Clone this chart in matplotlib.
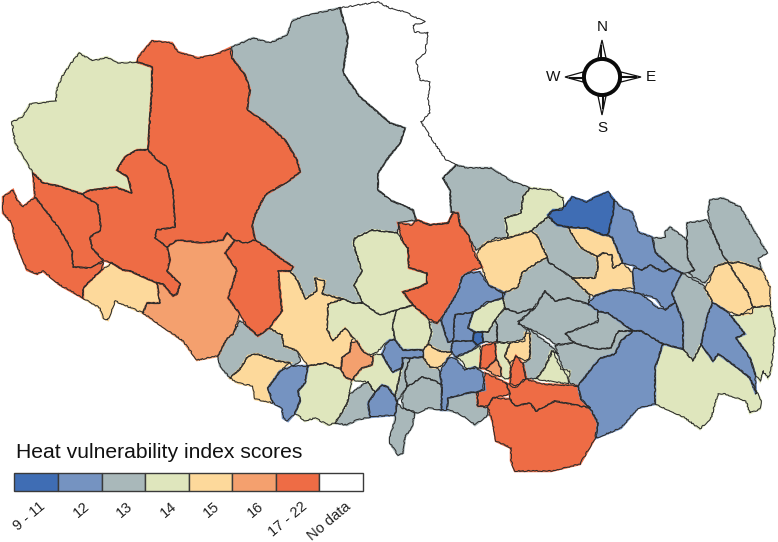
import matplotlib
matplotlib.use("Agg")
import matplotlib.pyplot as plt
from matplotlib.patches import Polygon, Circle, Rectangle

plt.rcParams['font.family'] = ['Liberation Sans', 'DejaVu Sans']

legend_labels = ["9 - 11", "12", "13", "14", "15", "16", "17 - 22", "No data"]
legend_colors = ["#3f6db4", "#7593c1", "#a9b8ba", "#dfe6bd", "#fdd99b", "#f4a06e", "#ee6c45", "#ffffff"]
legend_edges = [14, 58, 102, 145, 189, 232, 276, 319, 363]
legend_title = "Heat vulnerability index scores"

# outlines, pixel coords, one list per score class
no_data = [
    [(340, 8), (358, 5), (378, 2), (390, 8), (405, 12), (425, 22), (413, 25), (415, 32), (428, 33), (425, 53),
     (416, 60), (420, 80), (430, 82), (428, 97), (430, 113), (421, 122), (431, 138), (446, 160), (456, 165),
     (443, 178), (450, 190), (451, 212), (453, 213), (448, 223), (430, 225), (417, 220), (416, 220), (413, 210),
     (390, 200), (378, 190), (378, 173), (388, 158), (400, 143), (405, 128), (390, 123), (360, 97), (343, 73),
     (348, 37)],
]

class_13 = [
    [(232, 47), (253, 38), (270, 43), (287, 35), (293, 20), (317, 13), (340, 8), (348, 37), (343, 73), (360, 97),
     (390, 123), (405, 128), (400, 143), (388, 158), (378, 173), (378, 190), (390, 200), (413, 210), (416, 220),
     (398, 223), (398, 233), (372, 230), (355, 238), (353, 243), (357, 255), (362, 272), (354, 285), (363, 303),
     (353, 303), (343, 299), (322, 294), (325, 281), (315, 278), (317, 291), (305, 299), (298, 281), (290, 271),
     (293, 267), (283, 260), (267, 248), (255, 240), (252, 225), (255, 215), (265, 195), (290, 180), (300, 172),
     (297, 160), (285, 140), (265, 122), (247, 110), (250, 90), (245, 75), (232, 58)],
    [(443, 178), (456, 165), (468, 168), (491, 168), (513, 182), (530, 188), (523, 197), (521, 213), (505, 218),
     (508, 238), (495, 238), (476, 250), (468, 235), (460, 225), (458, 213), (451, 212), (450, 190)],
    [(531, 231), (548, 217), (557, 225), (568, 227), (580, 247), (597, 257), (598, 268), (595, 278), (572, 278),
     (558, 268), (548, 262), (547, 257), (537, 235)],
    [(503, 293), (518, 287), (522, 273), (538, 262), (547, 257), (548, 262), (558, 268), (572, 278), (590, 295),
     (588, 304), (568, 298), (555, 301), (545, 291), (535, 308), (518, 313), (505, 309), (503, 298)],
    [(505, 308), (518, 313), (535, 308), (518, 322), (527, 330), (523, 340), (505, 342), (497, 342), (497, 325),
     (495, 320)],
    [(488, 332), (495, 320), (497, 325), (497, 342), (483, 342), (482, 332)],
    [(518, 324), (535, 306), (545, 291), (555, 301), (568, 298), (588, 304), (598, 311), (598, 323), (591, 324),
     (565, 333), (573, 343), (565, 344), (555, 344), (545, 336), (528, 328)],
    [(565, 334), (591, 324), (598, 321), (598, 311), (608, 313), (633, 331), (618, 331), (611, 348), (595, 349),
     (575, 343)],
    [(555, 346), (565, 344), (575, 343), (595, 349), (611, 348), (618, 331), (633, 331), (621, 341), (615, 354),
     (601, 358), (595, 364), (578, 386), (570, 383), (560, 361), (558, 354)],
    [(528, 328), (538, 336), (551, 346), (558, 354), (553, 351), (545, 368), (536, 379), (526, 378), (523, 364),
     (530, 358), (530, 334)],
    [(429, 322), (437, 323), (441, 320), (448, 342), (453, 341), (451, 350), (452, 352), (443, 352), (437, 350),
     (428, 344), (432, 333)],
    [(448, 398), (468, 393), (478, 392), (477, 405), (488, 408), (488, 415), (475, 425), (467, 418), (455, 412),
     (447, 410)],
    [(423, 357), (430, 367), (438, 368), (440, 372), (442, 385), (433, 380), (422, 377), (407, 387), (405, 373),
     (410, 358)],
    [(407, 387), (422, 377), (433, 380), (442, 385), (442, 410), (428, 408), (417, 413), (403, 408), (402, 400),
     (403, 393)],
    [(402, 358), (410, 358), (405, 373), (407, 387), (403, 393), (397, 402), (395, 397), (398, 383), (403, 363)],
    [(397, 403), (402, 408), (415, 412), (412, 427), (405, 437), (403, 453), (398, 455), (390, 443), (390, 437),
     (395, 420), (395, 415)],
    [(335, 423), (347, 404), (349, 395), (365, 383), (368, 382), (375, 393), (368, 403), (370, 417), (357, 420),
     (347, 425)],
    [(240, 321), (247, 326), (258, 336), (269, 328), (282, 335), (284, 346), (298, 351), (300, 361), (293, 366),
     (290, 363), (277, 361), (257, 354), (248, 356), (240, 369), (230, 378), (220, 366), (218, 356), (227, 338),
     (233, 334)],
    [(653, 238), (665, 238), (665, 232), (670, 227), (687, 240), (688, 260), (695, 270), (683, 273), (672, 268),
     (655, 252)],
    [(687, 223), (707, 220), (712, 230), (723, 255), (728, 262), (715, 267), (705, 283), (695, 278), (688, 273),
     (695, 270), (688, 260), (687, 240)],
    [(710, 200), (723, 198), (740, 207), (748, 220), (767, 253), (758, 258), (762, 270), (740, 262), (732, 263),
     (728, 262), (723, 255), (712, 230), (708, 212)],
    [(682, 273), (703, 285), (713, 303), (708, 314), (701, 344), (693, 361), (683, 349), (683, 321), (675, 302),
     (672, 293)],
]

class_14 = [
    [(79, 53), (72, 62), (63, 75), (57, 88), (56, 101), (30, 104), (22, 117), (12, 122), (15, 143), (22, 155),
     (33, 173), (43, 183), (58, 186), (82, 194), (87, 191), (115, 187), (132, 193), (128, 177), (117, 170),
     (125, 157), (137, 150), (148, 150), (152, 87), (152, 67), (137, 62), (118, 63), (107, 57), (93, 61)],
    [(355, 238), (372, 230), (398, 233), (403, 242), (408, 248), (409, 268), (427, 273), (427, 283), (420, 287),
     (403, 292), (413, 305), (397, 310), (380, 315), (363, 303), (354, 285), (362, 272), (357, 255), (353, 243)],
    [(328, 304), (343, 299), (353, 303), (363, 303), (380, 315), (397, 310), (392, 325), (395, 340), (387, 342),
     (377, 352), (368, 355), (362, 350), (357, 341), (353, 338), (345, 328), (333, 341), (327, 329)],
    [(397, 310), (413, 305), (428, 318), (429, 322), (432, 333), (428, 344), (423, 350), (403, 350), (395, 340),
     (392, 325)],
    [(373, 355), (382, 354), (387, 363), (393, 372), (402, 368), (403, 363), (398, 383), (395, 397), (388, 387),
     (382, 385), (375, 393), (368, 382), (352, 380), (362, 368), (372, 365)],
    [(308, 366), (325, 363), (341, 369), (345, 377), (352, 380), (349, 395), (347, 404), (335, 423), (328, 425),
     (315, 418), (305, 421), (295, 413), (300, 401), (298, 391), (305, 383)],
    [(505, 218), (521, 213), (523, 197), (530, 188), (551, 190), (563, 198), (563, 207), (551, 212), (548, 217),
     (531, 231), (508, 238)],
    [(473, 312), (490, 302), (503, 298), (505, 308), (495, 320), (488, 332), (475, 332), (468, 328)],
    [(456, 358), (472, 350), (480, 346), (481, 353), (480, 368), (466, 369), (463, 361)],
    [(496, 343), (510, 343), (505, 356), (510, 364), (511, 378), (505, 379), (501, 376), (501, 368), (496, 359)],
    [(551, 351), (553, 351), (561, 369), (570, 371), (568, 384), (536, 379), (545, 368)],
    [(663, 344), (683, 349), (693, 361), (701, 344), (713, 361), (718, 354), (738, 368), (750, 378), (761, 401),
     (760, 409), (750, 413), (746, 401), (725, 394), (718, 394), (711, 418), (700, 429), (685, 418), (671, 411),
     (655, 404), (655, 368)],
    [(731, 316), (740, 315), (753, 307), (770, 306), (775, 328), (771, 371), (768, 378), (763, 371), (760, 381),
     (755, 374), (750, 358), (736, 338), (745, 334)],
]

class_15 = [
    [(102, 270), (112, 263), (123, 270), (130, 271), (157, 283), (160, 303), (147, 303), (143, 313), (115, 301),
     (108, 320), (103, 318), (100, 308), (83, 298), (83, 288), (97, 274)],
    [(278, 271), (290, 271), (298, 281), (305, 299), (317, 291), (315, 278), (325, 281), (322, 294), (343, 299),
     (328, 304), (327, 329), (333, 341), (345, 328), (353, 338), (351, 343), (350, 352), (342, 358), (341, 369),
     (325, 363), (308, 366), (298, 351), (284, 346), (282, 335), (269, 328), (282, 311)],
    [(230, 378), (240, 369), (248, 356), (257, 354), (277, 361), (290, 363), (280, 371), (268, 388), (273, 403),
     (255, 399), (253, 386), (238, 383)],
    [(480, 248), (487, 242), (500, 240), (508, 238), (531, 231), (537, 235), (547, 257), (538, 262), (522, 273),
     (518, 287), (503, 293), (488, 285), (482, 267), (477, 255)],
    [(568, 227), (587, 228), (603, 235), (612, 237), (623, 263), (613, 268), (612, 255), (603, 253), (597, 257),
     (580, 247)],
    [(597, 257), (603, 253), (612, 255), (613, 268), (623, 263), (633, 273), (634, 288), (612, 290), (595, 296),
     (590, 295), (572, 278), (595, 278), (598, 268)],
    [(423, 350), (428, 344), (437, 350), (443, 352), (452, 352), (446, 362), (438, 368), (430, 367), (423, 357)],
    [(510, 343), (525, 341), (525, 333), (530, 334), (530, 358), (525, 361), (516, 356), (510, 364), (505, 356)],
    [(715, 267), (728, 262), (737, 277), (748, 293), (753, 307), (752, 313), (740, 315), (725, 310), (713, 303),
     (705, 288), (710, 280)],
    [(728, 262), (732, 263), (740, 262), (762, 270), (770, 287), (770, 306), (753, 307), (748, 293), (737, 277)],
]

class_16 = [
    [(167, 247), (177, 240), (203, 243), (223, 240), (227, 233), (235, 240), (225, 253), (237, 270), (228, 298),
     (240, 314), (233, 334), (227, 338), (218, 356), (197, 360), (183, 341), (143, 313), (147, 303), (160, 303),
     (157, 283), (163, 284), (173, 296), (177, 294), (180, 284), (167, 271), (170, 260)],
    [(357, 341), (362, 350), (368, 355), (373, 357), (372, 365), (362, 368), (352, 380), (345, 377), (341, 369),
     (342, 358), (350, 352), (351, 343)],
    [(496, 359), (501, 368), (501, 376), (496, 376), (486, 369)],
]

class_17_22 = [
    [(137, 62), (139, 56), (152, 41), (172, 43), (178, 52), (198, 58), (215, 55), (230, 48), (232, 58), (245, 75),
     (250, 90), (247, 110), (265, 122), (285, 140), (297, 160), (300, 172), (290, 180), (265, 195), (255, 215),
     (252, 225), (255, 240), (245, 243), (235, 240), (227, 233), (223, 240), (203, 243), (177, 240), (167, 247),
     (155, 238), (157, 230), (175, 227), (173, 190), (167, 167), (157, 160), (148, 150), (152, 87), (152, 67)],
    [(137, 150), (148, 150), (157, 160), (167, 167), (173, 190), (175, 227), (157, 230), (155, 238), (167, 247),
     (170, 260), (167, 271), (180, 284), (177, 294), (173, 296), (163, 284), (157, 283), (130, 271), (123, 270),
     (112, 263), (103, 260), (92, 248), (90, 237), (101, 230), (98, 205), (83, 195), (87, 191), (115, 187),
     (132, 193), (128, 177), (117, 170), (125, 157)],
    [(33, 173), (43, 183), (58, 186), (82, 194), (98, 205), (101, 230), (90, 237), (92, 248), (103, 260), (90, 268),
     (73, 267), (72, 250), (58, 227), (43, 207), (35, 197)],
    [(3, 197), (13, 190), (17, 200), (23, 207), (35, 197), (43, 207), (58, 227), (72, 250), (73, 267), (90, 268),
     (103, 262), (102, 270), (97, 274), (83, 288), (83, 298), (60, 285), (43, 271), (37, 274), (27, 270), (15, 240),
     (12, 223), (3, 213)],
    [(235, 240), (245, 243), (255, 240), (267, 248), (283, 260), (293, 267), (290, 271), (278, 271), (282, 311),
     (269, 328), (258, 336), (247, 326), (240, 314), (228, 298), (237, 270), (225, 253)],
    [(398, 223), (412, 225), (417, 220), (430, 225), (448, 223), (453, 213), (458, 213), (460, 225), (468, 235),
     (475, 255), (482, 267), (468, 272), (462, 277), (458, 292), (448, 308), (437, 323), (428, 318), (413, 305),
     (403, 292), (420, 287), (427, 283), (427, 273), (409, 268), (408, 248), (403, 242)],
    [(483, 346), (495, 343), (496, 359), (486, 369), (480, 368), (481, 353)],
    [(516, 356), (523, 364), (526, 378), (516, 386), (510, 383), (511, 368)],
    [(485, 373), (496, 378), (506, 383), (510, 394), (493, 398), (488, 406), (478, 406), (477, 394), (483, 389)],
    [(506, 383), (515, 388), (526, 379), (541, 384), (578, 386), (581, 399), (590, 408), (580, 406), (555, 401),
     (536, 411), (530, 403), (515, 406), (510, 399), (510, 394)],
    [(493, 398), (510, 399), (515, 406), (530, 403), (536, 411), (555, 401), (580, 406), (590, 408), (598, 423),
     (595, 438), (580, 464), (551, 471), (515, 471), (511, 461), (511, 448), (496, 441), (493, 423), (490, 414),
     (488, 406)],
]

class_12 = [
    [(462, 277), (468, 273), (480, 272), (488, 285), (505, 293), (503, 298), (487, 302), (473, 312), (455, 315),
     (453, 341), (448, 342), (441, 320), (448, 308), (458, 292)],
    [(455, 315), (473, 312), (468, 328), (475, 332), (474, 333), (473, 341), (453, 341)],
    [(453, 341), (473, 341), (478, 345), (472, 350), (455, 357), (451, 350)],
    [(448, 358), (455, 358), (465, 370), (475, 367), (483, 373), (485, 390), (468, 393), (448, 398), (447, 410),
     (441, 410), (442, 390), (440, 372)],
    [(390, 340), (395, 340), (403, 350), (423, 350), (423, 357), (410, 358), (402, 358), (403, 363), (402, 368),
     (393, 372), (387, 363), (382, 354), (387, 342)],
    [(382, 385), (388, 387), (395, 397), (397, 403), (395, 415), (370, 417), (368, 403), (375, 393)],
    [(268, 388), (280, 371), (293, 366), (308, 366), (305, 383), (298, 391), (300, 401), (295, 413), (288, 421),
     (283, 418), (282, 408), (273, 403)],
    [(614, 200), (622, 208), (632, 212), (638, 232), (652, 237), (655, 252), (672, 268), (663, 272), (650, 265),
     (642, 270), (632, 265), (623, 263), (612, 237), (608, 235), (613, 213)],
    [(634, 268), (642, 270), (650, 265), (663, 272), (672, 268), (682, 273), (672, 293), (675, 302), (665, 310),
     (655, 298), (635, 292), (634, 288), (633, 273)],
    [(588, 304), (595, 296), (612, 290), (628, 291), (641, 294), (658, 308), (665, 310), (675, 302), (683, 321),
     (683, 349), (663, 344), (641, 331), (633, 331), (608, 313), (598, 311)],
    [(578, 386), (595, 364), (601, 358), (615, 354), (621, 341), (633, 331), (641, 331), (663, 344), (655, 368),
     (655, 404), (638, 408), (621, 428), (596, 438), (598, 423), (590, 408), (581, 399)],
    [(713, 303), (725, 310), (731, 316), (745, 334), (736, 338), (750, 358), (755, 374), (756, 394), (750, 378),
     (738, 368), (718, 354), (713, 361), (701, 344), (708, 314)],
]

class_9_11 = [
    [(548, 215), (553, 210), (562, 210), (572, 197), (587, 202), (595, 197), (608, 192), (614, 200), (613, 213),
     (608, 235), (603, 235), (587, 228), (568, 227), (557, 225)],
    [(474, 333), (482, 332), (483, 342), (477, 345), (473, 341)],
]

compass_text = [("N", 602, 27), ("S", 602, 128), ("W", 553, 77), ("E", 651, 77)]

fig = plt.figure(figsize=(7.78, 5.42), dpi=100)
ax = fig.add_axes([0, 0, 1, 1])
ax.set_xlim(0, 778)
ax.set_ylim(542, 0)
ax.axis('off')

map_classes = [(no_data, 7), (class_13, 2), (class_14, 3), (class_15, 4), (class_16, 5),
               (class_17_22, 6), (class_12, 1), (class_9_11, 0)]

# first pass closes the hairline gaps the wobbly outlines leave
for outlines, color_idx in map_classes:
    for outline in outlines:
        ax.add_patch(Polygon(outline, closed=True, facecolor=legend_colors[color_idx],
                             edgecolor=legend_colors[color_idx], linewidth=1.8))

for outlines, color_idx in map_classes:
    for outline in outlines:
        p = Polygon(outline, closed=True, facecolor='none',
                    edgecolor="#2b2b2b", linewidth=0.75, joinstyle='round')
        p.set_sketch_params(scale=0.6, length=8, randomness=16)
        ax.add_patch(p)

# legend strip
for i, label in enumerate(legend_labels):
    left, right = legend_edges[i], legend_edges[i + 1]
    ax.add_patch(Rectangle((left, 473), right - left, 18, facecolor=legend_colors[i],
                           edgecolor="#3a3a3a", linewidth=1.0))
    ax.text((left + right) / 2 + 3, 499, label, rotation=40, ha='right', va='top',
            rotation_mode='anchor', fontsize=10.5, color="#222222")
ax.text(16, 458, legend_title, fontsize=15.2, color="#111111", ha='left', va='baseline')

# compass
cx, cy = 602, 77
ax.add_patch(Polygon([(cx, 40), (cx - 4, 58), (cx + 4, 58)], facecolor='white', edgecolor='#111111', lw=0.9))
ax.add_patch(Polygon([(cx - 4, 96), (cx + 4, 96), (cx, 115)], facecolor='white', edgecolor='#111111', lw=0.9))
ax.add_patch(Polygon([(565, cy), (583, cy - 5), (583, cy + 5)], facecolor='white', edgecolor='#111111', lw=0.9))
ax.add_patch(Polygon([(641, cy), (621, cy - 5), (621, cy + 5)], facecolor='white', edgecolor='#111111', lw=0.9))
ax.plot([cx - 1, cx - 1], [46, 58], color='#111111', lw=1.5)
ax.plot([cx + 1, cx + 1], [96, 108], color='#111111', lw=1.5)
ax.plot([570, 583], [cy + 1, cy + 1], color='#111111', lw=1.5)
ax.plot([621, 636], [cy - 0.5, cy - 0.5], color='#111111', lw=1.5)
ax.add_patch(Circle((cx, cy), 18, facecolor='white', edgecolor='#0a0a0a', linewidth=2.8, zorder=3))
for letter, x, y in compass_text:
    ax.text(x, y, letter, fontsize=11, ha='center', va='center', color='#111111')

fig.savefig("out.png", dpi=100)
